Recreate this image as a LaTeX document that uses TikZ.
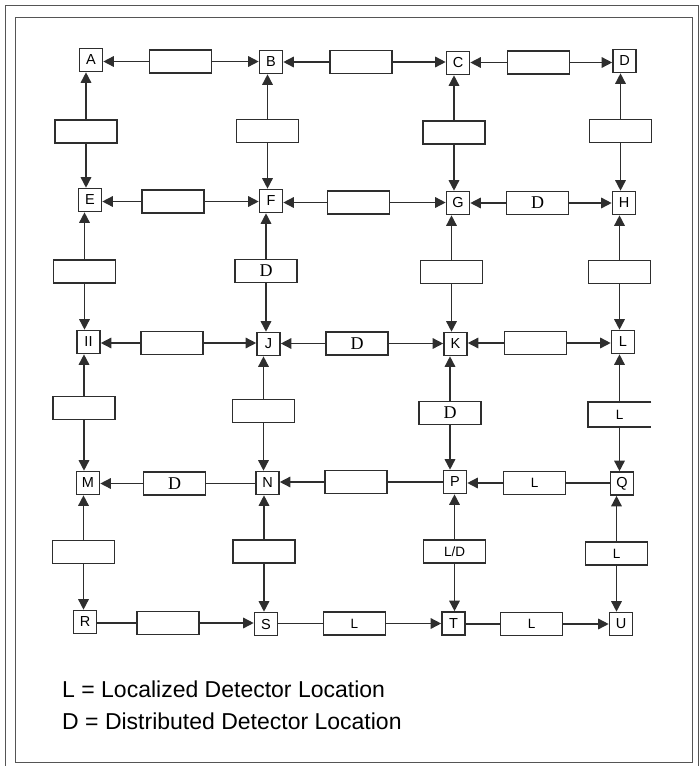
\documentclass[tikz,border=0pt]{standalone}
\usepackage{fontspec}
\setmainfont{Liberation Sans}
\newfontfamily\serifD{Liberation Serif}
\usetikzlibrary{arrows.meta}
\definecolor{ink}{HTML}{2E2E2E}
\definecolor{framec}{HTML}{555555}
\begin{document}
\begin{tikzpicture}[x=1pt,y=-1pt,
  nd/.style={draw=ink, line width=1.6pt, fill=white, minimum size=23pt, inner sep=0pt, font=\fontsize{14.5}{14.5}\selectfont},
  lk/.style={draw=ink, line width=1.6pt, minimum width=62pt, minimum height=23pt, inner sep=0pt, font=\fontsize{13.5}{13.5}\selectfont},
  lkd/.style={lk, font=\serifD\fontsize{18}{18}\selectfont},
  conn/.style={draw=ink, line width=1.5pt},
  arr/.style={conn, -{Triangle[length=10.5pt,width=10.5pt]}},
  legend/.style={anchor=base west, inner sep=0pt, font=\fontsize{23}{27}\selectfont},
  framestyle/.style={draw=framec, line width=1pt}
]
\useasboundingbox (0,0) rectangle (700,766);
% frames
\draw[framestyle] (15,17) rectangle (692,762);
\draw[framestyle] (5,766) -- (5,5) -- (698,5) -- (698,766);

% junction nodes
\node[nd] (A) at (91,60) {A};
\node[nd] (B) at (271,62) {B};
\node[nd] (C) at (458,63) {C};
\node[nd] (D) at (624.5,61) {D};
\node[nd] (E) at (90,200) {E};
\node[nd] (F) at (271,201) {F};
\node[nd] (G) at (458,203) {G};
\node[nd] (H) at (624,203) {H};
\node[nd] (II) at (88.5,342) {II};
\node[nd] (J) at (268.5,344) {J};
\node[nd] (K) at (455.5,344) {K};
\node[nd] (L) at (623,342) {L};
\node[nd] (M) at (88,483) {M};
\node[nd] (N) at (267.5,483) {N};
\node[nd] (P) at (455,482) {P};
\node[nd] (Q) at (622,483.5) {Q};
\node[nd] (R) at (85,622) {R};
\node[nd] (S) at (266,624) {S};
\node[nd] (T) at (453.5,623.5) {T};
\node[nd] (U) at (621,624) {U};

% horizontal link boxes
\node[lk] (ab) at (180.5,61.5) {};
\node[lk] (bc) at (361,62) {};
\node[lk] (cd) at (538.5,62.5) {};
\node[lk] (ef) at (173,201.5) {};
\node[lk] (fg) at (358.5,202.5) {};
\node[lkd] (gh) at (537.5,203) {D};
\node[lk] (ij) at (172,343) {};
\node[lkd] (jk) at (357,343.5) {D};
\node[lk] (kl) at (535.5,343) {};
\node[lkd] (mn) at (174.5,483.5) {D};
\node[lk] (np) at (356,482) {};
\node[lk] (pq) at (534.5,483) {L};
\node[lk] (rs) at (168,623) {};
\node[lk] (st) at (354.5,623.5) {L};
\node[lk] (tu) at (531.5,624) {L};

% vertical link boxes
\node[lk] (ae) at (86,131.5) {};
\node[lk] (bf) at (267.5,131) {};
\node[lk] (cg) at (454,132.5) {};
\node[lk] (dh) at (620.5,131) {};
\node[lk] (ei) at (84.5,271.5) {};
\node[lkd] (fj) at (266,271) {D};
\node[lk] (gk) at (451.5,272) {};
\node[lk] (hl) at (619.5,272) {};
\node[lk] (im) at (84,408) {};
\node[lk] (jn) at (263.5,411) {};
\node[lkd] (kp) at (450,413) {D};
\node[lk, draw=none] (lq) at (619.5,414.5) {L};
\draw[ink, line width=1.6pt] (lq.north east) -- (lq.north west) -- (lq.south west) -- (lq.south east);
\node[lk] (mr) at (83.5,552) {};
\node[lk] (ns) at (264,551.5) {};
\node[lk] (pt) at (454.5,551.5) {L/D};
\node[lk] (qu) at (616.5,553.5) {L};

% row 1
\draw[arr] (ab.west) -- (ab.west -| A.east);
\draw[arr] (ab.east) -- (ab.east -| B.west);
\draw[arr] (bc.west) -- (bc.west -| B.east);
\draw[arr] (bc.east) -- (bc.east -| C.west);
\draw[arr] (cd.west) -- (cd.west -| C.east);
\draw[arr] (cd.east) -- (cd.east -| D.west);
% row 2
\draw[arr] (ef.west) -- (ef.west -| E.east);
\draw[arr] (ef.east) -- (ef.east -| F.west);
\draw[arr] (fg.west) -- (fg.west -| F.east);
\draw[arr] (fg.east) -- (fg.east -| G.west);
\draw[arr] (gh.west) -- (gh.west -| G.east);
\draw[arr] (gh.east) -- (gh.east -| H.west);
% row 3
\draw[arr] (ij.west) -- (ij.west -| II.east);
\draw[arr] (ij.east) -- (ij.east -| J.west);
\draw[arr] (jk.west) -- (jk.west -| J.east);
\draw[arr] (jk.east) -- (jk.east -| K.west);
\draw[arr] (kl.west) -- (kl.west -| K.east);
\draw[arr] (kl.east) -- (kl.east -| L.west);
% row 4
\draw[arr] (mn.west) -- (mn.west -| M.east);
\draw[conn] (mn.east) -- (mn.east -| N.west);
\draw[arr] (np.west) -- (np.west -| N.east);
\draw[conn] (np.east) -- (np.east -| P.west);
\draw[arr] (pq.west) -- (pq.west -| P.east);
\draw[conn] (pq.east) -- (pq.east -| Q.west);
% row 5
\draw[conn] (rs.west) -- (rs.west -| R.east);
\draw[arr] (rs.east) -- (rs.east -| S.west);
\draw[conn] (st.west) -- (st.west -| S.east);
\draw[arr] (st.east) -- (st.east -| T.west);
\draw[conn] (tu.west) -- (tu.west -| T.east);
\draw[arr] (tu.east) -- (tu.east -| U.west);

% verticals rows 1-2
\draw[arr] (ae.north) -- (ae.north |- A.south);
\draw[arr] (ae.south) -- (ae.south |- E.north);
\draw[arr] (bf.north) -- (bf.north |- B.south);
\draw[arr] (bf.south) -- (bf.south |- F.north);
\draw[arr] (cg.north) -- (cg.north |- C.south);
\draw[arr] (cg.south) -- (cg.south |- G.north);
\draw[arr] (dh.north) -- (dh.north |- D.south);
\draw[arr] (dh.south) -- (dh.south |- H.north);
% verticals rows 2-3
\draw[arr] (ei.north) -- (ei.north |- E.south);
\draw[arr] (ei.south) -- (ei.south |- II.north);
\draw[arr] (fj.north) -- (fj.north |- F.south);
\draw[arr] (fj.south) -- (fj.south |- J.north);
\draw[arr] (gk.north) -- (gk.north |- G.south);
\draw[arr] (gk.south) -- (gk.south |- K.north);
\draw[arr] (hl.north) -- (hl.north |- H.south);
\draw[arr] (hl.south) -- (hl.south |- L.north);
% verticals rows 3-4
\draw[arr] (im.north) -- (im.north |- II.south);
\draw[arr] (im.south) -- (im.south |- M.north);
\draw[arr] (jn.north) -- (jn.north |- J.south);
\draw[arr] (jn.south) -- (jn.south |- N.north);
\draw[arr] (kp.north) -- (kp.north |- K.south);
\draw[arr] (kp.south) -- (kp.south |- P.north);
\draw[arr] (lq.north) -- (lq.north |- L.south);
\draw[arr] (lq.south) -- (lq.south |- Q.north);
% verticals rows 4-5
\draw[arr] (mr.north) -- (mr.north |- M.south);
\draw[arr] (mr.south) -- (mr.south |- R.north);
\draw[arr] (ns.north) -- (ns.north |- N.south);
\draw[arr] (ns.south) -- (ns.south |- S.north);
\draw[arr] (pt.north) -- (pt.north |- P.south);
\draw[arr] (pt.south) -- (pt.south |- T.north);
\draw[arr] (qu.north) -- (qu.north |- Q.south);
\draw[arr] (qu.south) -- (qu.south |- U.north);

% legend
\node[legend] (leg1) at (62,697) {L = Localized Detector Location};
\node[legend] (leg2) at (62,729) {D = Distributed Detector Location};
\end{tikzpicture}
\end{document}
